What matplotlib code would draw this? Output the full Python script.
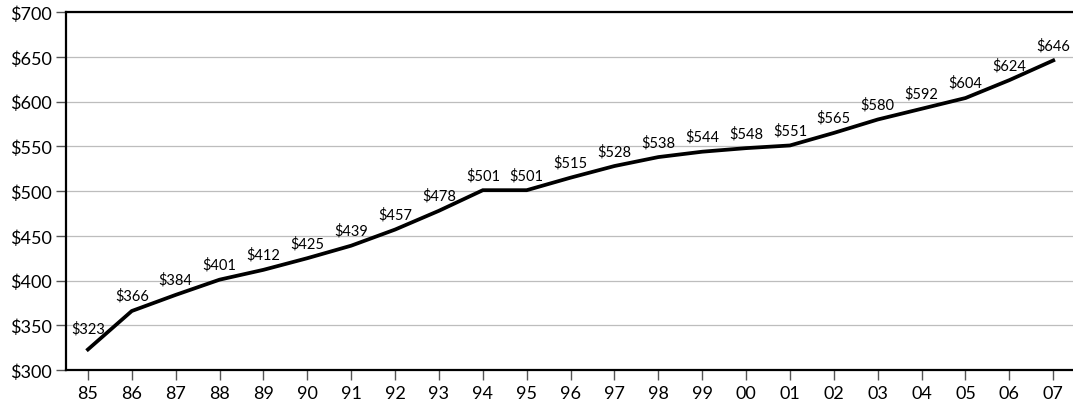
import matplotlib.pyplot as plt

years = ["85", "86", "87", "88", "89", "90", "91", "92", "93", "94", "95", "96",
         "97", "98", "99", "00", "01", "02", "03", "04", "05", "06", "07"]
values = [323, 366, 384, 401, 412, 425, 439, 457, 478, 501, 501, 515,
          528, 538, 544, 548, 551, 565, 580, 592, 604, 624, 646]
yticks = [300, 350, 400, 450, 500, 550, 600, 650, 700]

plt.rcParams['font.family'] = ['Lato', 'DejaVu Sans']

fig = plt.figure(figsize=(10.73, 4.1), dpi=100)
ax = fig.add_axes([0.0615, 0.095, 0.9385, 0.873])

x = list(range(len(years)))
ax.plot(x, values, color="black", linewidth=2.7, solid_joinstyle="miter", zorder=3)

# value labels above each point
for i, v in enumerate(values):
    dy = 11 if i > 0 else 15
    ax.annotate(f"${v}", (i, v), xytext=(0, dy), textcoords="offset points",
                ha="center", va="center", fontsize=10.5)

ax.set_xlim(-0.5, 22.45)
ax.set_ylim(300, 700)
ax.set_xticks(x)
ax.set_xticklabels(years)
ax.set_yticks(yticks)
ax.set_yticklabels([f"${t}" for t in yticks])

ax.grid(axis="y", color="#bdbdbd", linewidth=0.9)
ax.set_axisbelow(True)

for s in ["left", "bottom", "top"]:
    ax.spines[s].set_linewidth(1.6)
    ax.spines[s].set_color("black")
ax.spines["right"].set_visible(False)

ax.tick_params(axis="both", length=7, width=1, color="#555555", labelsize=13)
ax.tick_params(axis="x", pad=4)
ax.tick_params(axis="y", pad=3)

fig.savefig("out.png", dpi=100)
